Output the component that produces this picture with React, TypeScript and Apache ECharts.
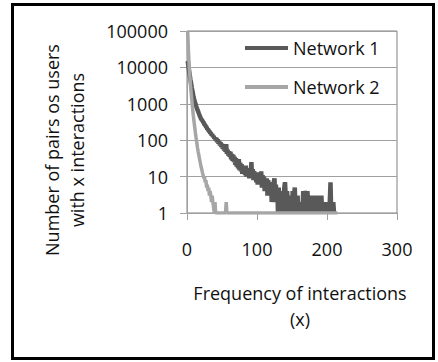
import React, { useEffect, useRef } from "react";
import * as echarts from "echarts";

// Network 1: counts for x = 1, 2, 3, ...
const net1Values = [
  15000, 11000, 8000, 6000, 4500, 3500, 2700, 2100, 1700, 1400, 1180, 1000, 870, 770, 680, 610, 540, 480, 430, 390,
  365, 345, 315, 300, 268, 262, 235, 228, 200, 205, 178, 176, 160, 158, 140, 145, 125, 130, 112, 118,
  100, 115, 88, 105, 80, 95, 72, 88, 65, 80, 58, 70, 52, 75, 48, 78, 42, 55, 38, 50,
  35, 48, 30, 42, 27, 40, 25, 35, 21, 32, 19, 28, 17, 30, 15, 24, 14, 22, 12, 20,
  12, 19, 11, 20, 10, 17, 10, 16, 9, 15, 10, 25, 9, 16, 8, 14, 8, 13, 7, 12,
  6, 13, 6, 11, 6, 14, 5, 11, 5, 10, 4, 9, 4, 9, 3, 8, 3, 7, 3, 7,
  2, 6, 3, 7, 9, 2, 6, 2, 5, 1, 5, 2, 4, 1, 4, 1, 3, 1, 5, 7,
  3, 1, 4, 2, 3, 1, 3, 1, 3, 1, 4, 1, 3, 5, 1, 3, 1, 3, 1, 2,
  1, 2, 1, 2, 1, 4, 2, 4, 3, 4, 1, 4, 2, 3, 1, 3, 1, 2, 1, 2,
  1, 3, 1, 3, 1, 3, 1, 3, 1, 3, 1, 3, 1, 2, 1, 2, 1, 2, 1, 2,
  1, 2, 1, 2, 7, 1, 2, 1, 2, 1, 1,
];

// Network 2: counts for x = 1, 2, 3, ...
const net2Values = [
  100000, 30000, 12000, 6000, 3200, 1900, 1200, 750, 480, 330, 230, 160, 115, 85, 62, 48, 38, 30, 24, 19,
  16, 13, 11, 9, 10, 7, 8, 5, 6, 4, 5, 3, 4, 3, 2, 3, 2, 2, 1, 2,
  1, 1, 1, 1, 1, 1, 1, 1, 1, 1, 1, 1, 1, 1, 1, 2, 1, 1, 1, 1,
  1, 1, 1, 1, 1, 1, 1, 1, 1, 1, 1, 1, 1, 1, 1, 1, 1, 1, 1, 1,
  1, 1, 1, 1, 1, 1, 1, 1, 1, 1, 1, 1, 1, 1, 1, 1, 1, 1, 1, 1,
  1, 1, 1, 1, 1, 1, 1, 1, 1, 1, 1, 1, 1, 1, 1, 1, 1, 1, 1, 1,
  1, 1, 1, 1, 1, 1, 1, 1, 1, 1, 1, 1, 1, 1, 1, 1, 1, 1, 1, 1,
  1, 1, 1, 1, 1, 1, 1, 1, 1, 1, 1, 1, 1, 1, 1, 1, 1, 1, 1, 1,
  1, 1, 1, 1, 1, 1, 1, 1, 1, 1, 1, 1, 1, 1, 1, 1, 1, 1, 1, 1,
  1, 1, 1, 1, 1, 1, 1, 1, 1, 1, 1, 1, 1, 1, 1, 1, 1, 1, 1, 1,
  1, 1, 1, 1, 1, 1, 1, 1, 1, 1, 1, 1, 1, 1, 1, 1,
];

const seriesNames = ["Network 1", "Network 2"];
const seriesColors = ["#595959", "#a6a6a6"];
const xMin = 0;
const xMax = 300;
const xInterval = 100;
const yMin = 1;
const yMax = 100000;
const xTitle = "Frequency of interactions\n(x)";
const yTitle = "Number of pairs os users\nwith x interactions";

export default function App() {
  const ref = useRef<HTMLDivElement>(null);

  useEffect(() => {
    document.body.style.margin = "0";
    const chart = echarts.init(ref.current!, null, { renderer: "svg" });
    const font = "'Open Sans', sans-serif";
    const axisGray = "#a0a0a0";
    chart.setOption({
      animation: false,
      backgroundColor: "#ffffff",
      textStyle: { fontFamily: font },
      graphic: [
        {
          type: "rect",
          silent: true,
          shape: { x: 12.5, y: 4.5, width: 421, height: 354 },
          style: { fill: "none", stroke: "#000000", lineWidth: 3 },
        },
      ],
      grid: {
        left: 187,
        right: 41,
        top: 31,
        bottom: 149,
        outerBoundsMode: "none",
        containLabel: false,
        show: true,
        borderColor: "#808080",
        borderWidth: 1,
        backgroundColor: "transparent",
      },
      legend: {
        orient: "vertical",
        left: 240,
        top: 33,
        icon: "rect",
        itemWidth: 43,
        itemHeight: 4,
        itemGap: 19,
        data: seriesNames,
        textStyle: { fontFamily: font, fontSize: 18, color: "#111", lineHeight: 20 },
      },
      xAxis: {
        type: "value",
        min: xMin,
        max: xMax,
        interval: xInterval,
        axisLine: { show: true, lineStyle: { color: axisGray, width: 1 } },
        axisTick: { show: true, inside: false, length: 7, lineStyle: { color: axisGray } },
        splitLine: { show: false },
        axisLabel: { margin: 27, fontSize: 18, color: "#111", fontFamily: font },
        name: xTitle,
        nameLocation: "middle",
        nameGap: 67,
        nameTextStyle: { fontSize: 18, color: "#111", fontFamily: font, lineHeight: 26, padding: [0, 0, 0, 16] },
      },
      yAxis: {
        type: "log",
        logBase: 10,
        min: yMin,
        max: yMax,
        splitNumber: 5,
        axisLine: { show: true, lineStyle: { color: axisGray, width: 1 } },
        axisTick: { show: true, inside: false, length: 7, lineStyle: { color: axisGray } },
        splitLine: { show: true, lineStyle: { color: axisGray, width: 1 } },
        minorTick: { show: false },
        axisLabel: {
          margin: 19,
          fontSize: 18,
          color: "#111",
          fontFamily: font,
          formatter: (v: number) => String(Math.round(v)),
        },
        name: yTitle,
        nameLocation: "middle",
        nameRotate: 90,
        nameGap: 98,
        nameTextStyle: { fontSize: 18, color: "#111", fontFamily: font, lineHeight: 25, padding: [0, 56, 0, 0] },
      },
      series: [
        {
          name: seriesNames[0],
          type: "line",
          symbol: "none",
          showSymbol: false,
          color: seriesColors[0],
          lineStyle: { width: 4.5, color: seriesColors[0] },
          data: net1Values.map((v, i) => [i + 1, v]),
        },
        {
          name: seriesNames[1],
          type: "line",
          symbol: "none",
          showSymbol: false,
          color: seriesColors[1],
          lineStyle: { width: 3.5, color: seriesColors[1] },
          data: net2Values.map((v, i) => [i + 1, v]),
        },
      ],
    });
    return () => chart.dispose();
  }, []);

  return <div ref={ref} style={{ width: 438, height: 362 }} />;
}
